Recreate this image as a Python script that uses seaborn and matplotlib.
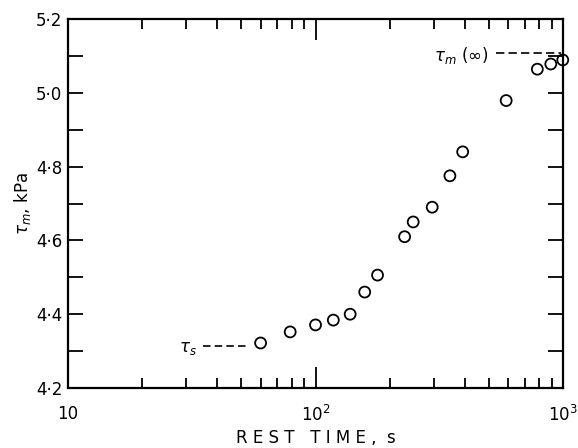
import numpy as np
import pandas as pd
import matplotlib
matplotlib.use("Agg")
import matplotlib.pyplot as plt
from matplotlib.ticker import FixedLocator, NullFormatter, LogLocator
import seaborn as sns

# rest time (s) and peak stress tau_m (kPa)
rest_time = [60, 79, 100, 118, 138, 158, 178, 229, 248, 296, 349, 393, 589, 787, 892, 997]
tau_m = [4.322, 4.352, 4.371, 4.384, 4.400, 4.460, 4.506, 4.610, 4.650, 4.690,
         4.775, 4.840, 4.979, 5.064, 5.078, 5.089]

tau_s = 4.314
tau_inf = 5.107

y_ticks = [4.2, 4.4, 4.6, 4.8, 5.0, 5.2]
y_labels = ["4·2", "4·4", "4·6", "4·8", "5·0", "5·2"]
x_ticks = [10, 100, 1000]
x_labels = ["10", r"$10^2$", r"$10^3$"]

df = pd.DataFrame({"rest": rest_time, "tau": tau_m})

sns.set_style("ticks")
plt.rcParams["font.family"] = ["DejaVu Sans"]
plt.rcParams["text.color"] = "black"
plt.rcParams["axes.labelcolor"] = "black"
plt.rcParams["xtick.color"] = "black"
plt.rcParams["ytick.color"] = "black"

fig = plt.figure(figsize=(5.78, 4.48), dpi=100)
ax = fig.add_axes([0.1176, 0.1339, 0.8566, 0.8237])

sns.scatterplot(data=df, x="rest", y="tau", ax=ax, marker="o", s=62,
                facecolors="none", edgecolor="black", linewidth=1.3,
                legend=False, clip_on=False, zorder=5)

ax.set_xscale("log")
ax.set_xlim(10, 1000)
ax.set_ylim(4.2, 5.2)

# dashed reference marks
ax.plot([35, 53], [tau_s, tau_s], ls=(0, (4.5, 2.5)), color="black", lw=1.2)
ax.text(33, tau_s - 0.006, r"$\tau_s$", ha="right", va="center", fontsize=12)
ax.plot([536, 980], [tau_inf, tau_inf], ls=(0, (5, 2.5)), color="black", lw=1.2)
ax.text(498, tau_inf - 0.006, r"$\tau_m$ ($\infty$)", ha="right", va="center", fontsize=12)

# ticks: inward, on all sides
ax.set_yticks(y_ticks)
ax.set_yticklabels(y_labels, fontsize=12)
ax.yaxis.set_minor_locator(FixedLocator([4.3, 4.5, 4.7, 4.9, 5.1]))
ax.set_xticks(x_ticks)
ax.set_xticklabels(x_labels, fontsize=12)
ax.xaxis.set_minor_locator(LogLocator(base=10, subs=np.arange(2, 10)))
ax.xaxis.set_minor_formatter(NullFormatter())

ax.tick_params(axis="y", which="both", direction="in", length=11, width=1.3,
               left=True, right=True, pad=4)
ax.tick_params(axis="x", which="major", direction="in", length=15, width=1.3,
               top=True, bottom=True, pad=12)
ax.tick_params(axis="x", which="minor", direction="in", length=7, width=1.3,
               top=True, bottom=True)

for side in ["left", "right", "top", "bottom"]:
    ax.spines[side].set_visible(True)
    ax.spines[side].set_linewidth(1.6)
    ax.spines[side].set_color("black")

ax.set_xlabel("R E S T   T I M E ,  s", fontsize=12, labelpad=3)
ax.set_ylabel(r"$\tau_m$, kPa", fontsize=12, labelpad=2)

fig.savefig("out.png", dpi=100)
